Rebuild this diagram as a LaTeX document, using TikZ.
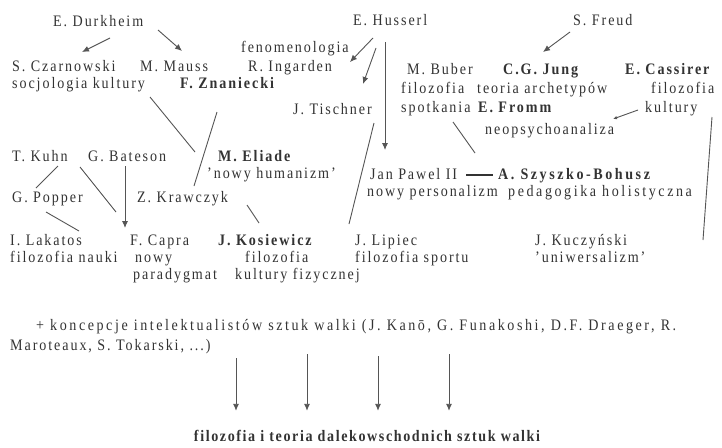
\documentclass[tikz,border=0pt]{standalone}
\usepackage{fontspec}
\setmainfont{Liberation Serif}[FakeStretch=0.88,LetterSpace=12]
\newfontfamily\widefont{Liberation Serif}[FakeStretch=0.88,LetterSpace=16]
\newfontfamily\bottomfont{Liberation Serif}[FakeStretch=0.88,LetterSpace=10]
\usetikzlibrary{arrows.meta}
\definecolor{ink}{HTML}{333333}
\definecolor{wirec}{HTML}{555555}
\tikzset{
 lbl/.style={anchor=west,inner sep=0pt,text height=11pt,text depth=3pt,text=ink,font=\fontsize{16}{18}\selectfont},
 blbl/.style={lbl,font=\fontsize{16}{18}\selectfont\bfseries},
 wlbl/.style={lbl,font=\fontsize{16}{18}\widefont},
 wblbl/.style={lbl,font=\fontsize{16}{18}\widefont\bfseries},
 flbl/.style={anchor=center,inner sep=0pt,text height=11pt,text depth=3pt,text=ink,font=\fontsize{16}{18}\bottomfont\bfseries},
 wire/.style={draw=wirec,line width=0.9pt},
 arr/.style={wire,-{Latex[length=7pt,width=6pt]}},
 sarr/.style={wire,-{Latex[length=4pt,width=3.5pt]}},
}
\begin{document}
\begin{tikzpicture}[x=1pt,y=-1pt]
\useasboundingbox (0,0) rectangle (722,447);
\fill[white] (0,0) rectangle (722,447);
% top rows
\node[lbl] (durk) at (53,22) {E. Durkheim};
\node[lbl] (huss) at (353,21) {E. Husserl};
\node[lbl] (freud) at (573,21) {S. Freud};
\node[lbl] (fenom) at (241,48) {fenomenologia};
\node[lbl] (czar) at (12,67) {S. Czarnowski};
\node[lbl] (mauss) at (140,67) {M. Mauss};
\node[lbl] (ingar) at (248,67) {R. Ingarden};
\node[lbl] (buber) at (407,70) {M. Buber};
\node[blbl] (jung) at (503,70) {C.G. Jung};
\node[blbl] (cass) at (625,70) {E. Cassirer};
\node[lbl] (socjo) at (12,84) {socjologia kultury};
\node[blbl] (znan) at (180,84) {F. Znaniecki};
\node[lbl] (filb) at (401,89) {filozofia};
\node[lbl] (arch) at (477,89) {teoria archetypów};
\node[lbl] (filc) at (651,89) {filozofia};
\node[lbl] (tisch) at (293,110) {J. Tischner};
\node[lbl] (spotk) at (401,108) {spotkania};
\node[blbl] (fromm) at (478,108) {E. Fromm};
\node[lbl] (kult) at (645,108) {kultury};
\node[lbl] (neo) at (485,130) {neopsychoanaliza};
% middle rows
\node[lbl] (kuhn) at (12,157) {T. Kuhn};
\node[lbl] (bate) at (88,157) {G. Bateson};
\node[blbl] (eliade) at (218,157) {M. Eliade};
\node[lbl] (human) at (207,174) {'nowy humanizm'};
\node[lbl] (jan) at (370,175) {Jan Pawel II};
\node[wblbl] (szysz) at (498,175) {A. Szyszko-Bohusz};
\node[lbl] (perso) at (367,192) {nowy personalizm};
\node[wlbl] (pedag) at (508,192) {pedagogika holistyczna};
\node[lbl] (popper) at (12,198) {G. Popper};
\node[lbl] (kraw) at (137,198) {Z. Krawczyk};
% lower rows
\node[lbl] (lakat) at (10,241) {I. Lakatos};
\node[lbl] (capra) at (130,241) {F. Capra};
\node[blbl] (kosie) at (218,241) {J. Kosiewicz};
\node[lbl] (lipiec) at (355,241) {J. Lipiec};
\node[lbl] (kuczy) at (535,241) {J. Kuczyński};
\node[lbl] (nauki) at (10,258) {filozofia nauki};
\node[lbl] (nowy) at (135,258) {nowy};
\node[lbl] (filk) at (245,258) {filozofia};
\node[lbl] (sport) at (355,258) {filozofia sportu};
\node[lbl] (uniw) at (535,258) {'uniwersalizm'};
\node[lbl] (parad) at (133,275) {paradygmat};
\node[lbl] (fizy) at (235,275) {kultury fizycznej};
\node[wlbl] (konc) at (36,326) {+ koncepcje intelektualistów sztuk walki (J. Kanō, G. Funakoshi, D.F. Draeger, R.};
\node[lbl] (marot) at (10,346) {Maroteaux, S. Tokarski, ...)};
\node[flbl] (final) at (367,437) {filozofia i teoria dalekowschodnich sztuk walki};
% connectors
\draw[arr] ([shift={(57,16)}]durk.west) -- ([shift={(70,-15)}]czar.west);
\draw[arr] ([shift={(105,8)}]durk.west) -- ([shift={(42,-16)}]mauss.west);
\draw[arr] ([shift={(20,17)}]huss.west) -- ([shift={(102,-5)}]ingar.west);
\draw[arr] ([shift={(23,27)}]huss.west) -- ([shift={(70,-26)}]tisch.west);
\draw[arr] ([shift={(32,21)}]huss.west) -- ([shift={(15,-25)}]jan.west);
\draw[arr] ([shift={(-3,11)}]freud.west) -- ([shift={(40,-18)}]jung.west);
\draw[sarr] ([shift={(-7,2)}]kult.west) -- ([shift={(128,-11)}]neo.west);
\coordinate (cassend) at (703,240);
\draw[wire] ([shift={(67,9)}]kult.west) -- (cassend);
\draw[wire] ([shift={(52,14)}]spotk.west) -- ([shift={(105,-22)}]jan.west);
\draw[draw=ink,line width=1.3pt] ([xshift=9pt]jan.east) -- ([xshift=-5pt]szysz.west);
\draw[wire] ([shift={(81,13)}]tisch.west) -- ([shift={(-6,-17)}]lipiec.west);
\draw[wire] ([shift={(37,28)}]znan.west) -- ([shift={(57,-12)}]kraw.west);
\draw[wire] ([shift={(138,13)}]socjo.west) -- ([shift={(58,-46)}]kraw.west);
\draw[wire] ([shift={(110,7)}]kraw.west) -- ([shift={(41,-18)}]kosie.west);
\draw[wire] ([shift={(46,9)}]kuhn.west) -- ([shift={(24,-10)}]popper.west);
\draw[wire] ([shift={(68,10)}]kuhn.west) -- ([shift={(-14,-29)}]capra.west);
\draw[arr] ([shift={(37,9)}]bate.west) -- ([shift={(-5,-13)}]capra.west);
\draw[wire] ([shift={(34,14)}]popper.west) -- ([shift={(69,-10)}]lakat.west);
% bottom arrows
\coordinate (a1) at (236,358);
\coordinate (a2) at (307,354);
\coordinate (a3) at (378,356);
\coordinate (a4) at (449,354);
\foreach \a in {a1,a2,a3,a4}
  \draw[arr] (\a) -- ([shift={(0,-19)}]final.north -| \a);
\end{tikzpicture}
\end{document}
